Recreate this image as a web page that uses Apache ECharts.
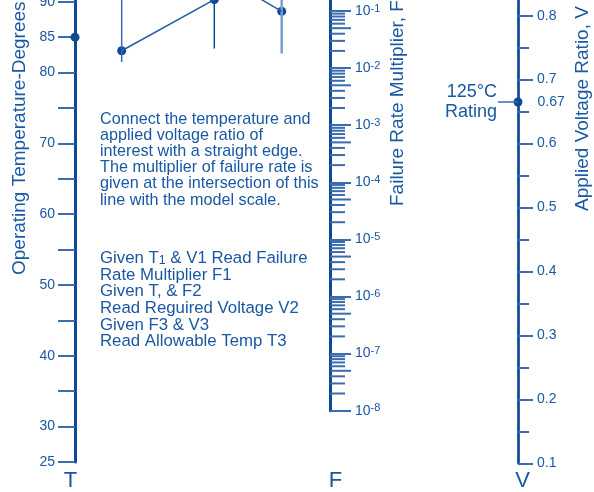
<!DOCTYPE html>
<html>
<head>
<meta charset="utf-8">
<script src="https://cdn.jsdelivr.net/npm/echarts@6/dist/echarts.min.js"></script>
<style>
	html,body{margin:0;padding:0;background:#fff;}
	#chart{width:594px;height:492px;}
</style>
</head>
<body>
<div id="chart"></div>
<script>
// T scale, degrees
const tMin = 25
const tStep = 5
const tLabelled = [25, 30, 40, 50, 60, 70, 80, 85, 90]
// F scale, powers of ten
const fMinExp = -8
const fDecades = [-8, -7, -6, -5, -4, -3, -2]
const fSubSteps = [2, 3, 4, 5, 6, 7, 8, 9]
// V scale
const vMin = 0.1
const vStep = 0.1
// marked readings
const tReading = [85]
const vRating = [0.665]
const vRatingLabel = '0.67'
// partial example construction in the middle (position across sheet, T units)
const guideX = [121.7, 214.3, 281.7]
const guideBottom = [81.5, 83.4, 82.7]
const exampleA = [[121.7, 83.08], [214.3, 90.3]]
const exampleB = [[232.4, 92.7], [281.7, 88.64]]
const examplePoints = [[121.7, 83.08], [214.3, 90.3], [281.7, 88.64]]

const dark = '#0c4a96'
const mid = '#3a6cae'
const light = '#7aa0cc'
const txt = '#1a58a3'
const font = '"Liberation Sans", Arial, sans-serif'

let chart = echarts.init(document.getElementById('chart'))

// minor ticks of the log scale: [x, exponent, length]
let fMinor = []
for (let d of fDecades) {
	for (let k of fSubSteps) {
		fMinor.push([1, d + Math.log10(k), k == 5 ? 21 : 15])
	}
}

function axisLine(w) {
	return {show: true, onZero: false, lineStyle: {color: dark, width: w}}
}

let guideSeries = guideX.map((x, i) => ({
	type: 'line',
	xAxisIndex: 0, yAxisIndex: 0,
	data: [[x, 95], [x, guideBottom[i]]],
	symbol: 'none',
	clip: true,
	lineStyle: {color: [mid, dark, light][i], width: i == 2 ? 2.5 : 1.5}
}))

let option = {
	animation: false,
	grid: [
		{left: 75, right: 0, top: -30, height: 492, outerBoundsMode: 'none', containLabel: false},
		{left: 300, width: 30, top: -30, height: 440.7, outerBoundsMode: 'none', containLabel: false},
		{left: 478, width: 40, top: -40, height: 503.3, outerBoundsMode: 'none', containLabel: false}
	],
	xAxis: [
		{gridIndex: 0, type: 'value', min: 75, max: 594, show: false},
		{gridIndex: 1, type: 'value', min: 0, max: 1, show: false},
		{gridIndex: 2, type: 'value', min: -40, max: 0, show: false}
	],
	yAxis: [
		{
			gridIndex: 0, type: 'value', position: 'left',
			min: tMin, max: 94.48, interval: tStep,
			axisLine: axisLine(3),
			axisTick: {show: true, length: 17, lineStyle: {color: mid, width: 2}},
			axisLabel: {
				margin: 20, color: txt, fontSize: 14, fontFamily: font,
				formatter: v => tLabelled.includes(v) ? String(v) : ''
			},
			splitLine: {show: false}
		},
		{
			gridIndex: 1, type: 'value', position: 'right',
			min: fMinExp, max: -0.282, interval: 1,
			axisLine: axisLine(3),
			axisTick: {show: true, length: 21, lineStyle: {color: mid, width: 2}},
			axisLabel: {
				margin: 25, color: txt, fontFamily: font,
				formatter: v => (Number.isInteger(v) && v <= -1) ? '{b|10}{s|' + v + '}' : '',
				rich: {
					b: {fontSize: 14, lineHeight: 16, color: txt, fontFamily: font},
					s: {fontSize: 11, lineHeight: 10, verticalAlign: 'top', color: txt, fontFamily: font}
				}
			},
			splitLine: {show: false}
		},
		{
			gridIndex: 2, type: 'value', position: 'right',
			min: vMin, max: 0.8871, interval: vStep,
			axisLine: axisLine(2.7),
			axisTick: {show: true, length: 15, lineStyle: {color: mid, width: 2}},
			minorTick: {show: true, splitNumber: 2, length: 11, lineStyle: {color: mid, width: 2}},
			axisLabel: {
				margin: 19, color: txt, fontSize: 14, fontFamily: font,
				formatter: v => (Math.abs(v * 10 - Math.round(v * 10)) < 1e-6 && v < 0.81) ? v.toFixed(1) : ''
			},
			splitLine: {show: false}
		}
	],
	series: [
		...guideSeries,
		{
			type: 'line', xAxisIndex: 0, yAxisIndex: 0, data: exampleA,
			symbol: 'none', clip: true, lineStyle: {color: '#2460a8', width: 1.5}
		},
		{
			type: 'line', xAxisIndex: 0, yAxisIndex: 0, data: exampleB,
			symbol: 'none', clip: true, lineStyle: {color: '#2460a8', width: 1.5}
		},
		{
			type: 'scatter', xAxisIndex: 0, yAxisIndex: 0, data: examplePoints,
			symbolSize: 9, clip: false, itemStyle: {color: dark, opacity: 1}
		},
		{
			type: 'scatter', xAxisIndex: 0, yAxisIndex: 0,
			data: tReading.map(t => [75, t]),
			symbolSize: 9, clip: false, itemStyle: {color: dark, opacity: 1}
		},
		{
			// log scale sub ticks
			type: 'custom', xAxisIndex: 1, yAxisIndex: 1, data: fMinor,
			renderItem: (params, api) => {
				let p = api.coord([api.value(0), api.value(1)])
				return {
					type: 'line',
					shape: {x1: p[0], y1: p[1], x2: p[0] + api.value(2), y2: p[1]},
					style: {stroke: mid, lineWidth: 2}
				}
			}
		},
		{
			type: 'line', xAxisIndex: 2, yAxisIndex: 2,
			data: vRating.map(v => [[-20, v], [0, v]])[0],
			symbol: 'none', clip: false, lineStyle: {color: mid, width: 1.5}
		},
		{
			type: 'scatter', xAxisIndex: 2, yAxisIndex: 2,
			data: vRating.map(v => [0, v]),
			symbolSize: 9, clip: false, itemStyle: {color: dark, opacity: 1},
			label: {
				show: true, position: 'right', distance: 15,
				formatter: vRatingLabel, color: txt, fontSize: 14, fontFamily: font
			}
		}
	],
	graphic: [
		{
			type: 'text', x: 19.5, y: 275, rotation: Math.PI / 2,
			style: {text: 'Operating Temperature-Degrees C', fontSize: 19, fontFamily: font, fill: txt, align: 'left', verticalAlign: 'middle'}
		},
		{
			type: 'text', x: 398, y: 206, rotation: Math.PI / 2,
			style: {text: 'Failure Rate Multiplier, F', fontSize: 19, fontFamily: font, fill: txt, align: 'left', verticalAlign: 'middle'}
		},
		{
			type: 'text', x: 583, y: 211, rotation: Math.PI / 2,
			style: {text: 'Applied Voltage Ratio, V', fontSize: 19, fontFamily: font, fill: txt, align: 'left', verticalAlign: 'middle'}
		},
		{
			type: 'text', x: 100, y: 111,
			style: {
				text: 'Connect the temperature and\napplied voltage ratio of\ninterest with a straight edge.\nThe multiplier of failure rate is\ngiven at the intersection of this\nline with the model scale.',
				fontSize: 16.2, lineHeight: 16.2, fontFamily: font, fill: txt, align: 'left', verticalAlign: 'top'
			}
		},
		{
			type: 'text', x: 100, y: 250,
			style: {
				text: 'Given T{sub|1} & V1 Read Failure\nRate Multiplier F1\nGiven T, & F2\nRead Reguired Voltage V2\nGiven F3 & V3\nRead Allowable Temp T3',
				fontSize: 16.8, lineHeight: 16.7, fontFamily: font, fill: txt, align: 'left', verticalAlign: 'top',
				rich: {sub: {fontSize: 12.5, lineHeight: 12, verticalAlign: 'bottom', fill: txt, fontFamily: font}}
			}
		},
		{
			type: 'text', x: 497, y: 81.7,
			style: {text: '125°C\nRating', fontSize: 18, lineHeight: 20, fontFamily: font, fill: txt, align: 'right', verticalAlign: 'top'}
		},
		{type: 'text', x: 70.5, y: 470, style: {text: 'T', fontSize: 22, fontFamily: font, fill: txt, align: 'center', verticalAlign: 'top'}},
		{type: 'text', x: 335.5, y: 470, style: {text: 'F', fontSize: 22, fontFamily: font, fill: txt, align: 'center', verticalAlign: 'top'}},
		{type: 'text', x: 522.5, y: 470, style: {text: 'V', fontSize: 22, fontFamily: font, fill: txt, align: 'center', verticalAlign: 'top'}}
	]
}

chart.setOption(option)
window.addEventListener('resize', function () {
	chart.resize()
})
</script>
</body>
</html>
